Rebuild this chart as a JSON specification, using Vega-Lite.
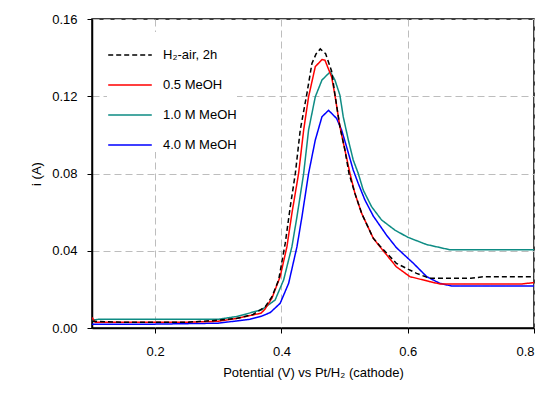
{
  "$schema": "https://vega.github.io/schema/vega-lite/v6.json",
  "width": 442,
  "height": 309,
  "autosize": {"type": "none"},
  "padding": {"left": 92, "top": 19, "right": 16, "bottom": 68},
  "background": "white",
  "config": {
    "view": {"stroke": "#000000", "strokeWidth": 1.5},
    "font": "Liberation Sans",
    "axis": {
      "labelFont": "Liberation Sans",
      "titleFont": "Liberation Sans",
      "labelFontSize": 13,
      "titleFontSize": 13,
      "titleFontWeight": "normal",
      "labelColor": "#000000",
      "titleColor": "#000000",
      "domainColor": "#000000",
      "domainWidth": 1.5,
      "tickColor": "#000000",
      "tickSize": 5,
      "gridColor": "#bdbdbd",
      "gridDash": [7, 4],
      "gridWidth": 1
    }
  },
  "data": {
    "values": [
      {"s": "1.0 M MeOH", "x": 0.100, "y": 0.0040},
      {"s": "1.0 M MeOH", "x": 0.110, "y": 0.0045},
      {"s": "1.0 M MeOH", "x": 0.300, "y": 0.0045},
      {"s": "1.0 M MeOH", "x": 0.330, "y": 0.0060},
      {"s": "1.0 M MeOH", "x": 0.3691, "y": 0.0095},
      {"s": "1.0 M MeOH", "x": 0.390, "y": 0.0145},
      {"s": "1.0 M MeOH", "x": 0.4035, "y": 0.0249},
      {"s": "1.0 M MeOH", "x": 0.4166, "y": 0.0421},
      {"s": "1.0 M MeOH", "x": 0.4246, "y": 0.0576},
      {"s": "1.0 M MeOH", "x": 0.4352, "y": 0.0800},
      {"s": "1.0 M MeOH", "x": 0.443, "y": 0.1025},
      {"s": "1.0 M MeOH", "x": 0.4536, "y": 0.1197},
      {"s": "1.0 M MeOH", "x": 0.4642, "y": 0.1284},
      {"s": "1.0 M MeOH", "x": 0.4774, "y": 0.1327},
      {"s": "1.0 M MeOH", "x": 0.4847, "y": 0.1284},
      {"s": "1.0 M MeOH", "x": 0.4926, "y": 0.1206},
      {"s": "1.0 M MeOH", "x": 0.4979, "y": 0.1094},
      {"s": "1.0 M MeOH", "x": 0.506, "y": 0.0973},
      {"s": "1.0 M MeOH", "x": 0.5137, "y": 0.0870},
      {"s": "1.0 M MeOH", "x": 0.5216, "y": 0.0801},
      {"s": "1.0 M MeOH", "x": 0.5296, "y": 0.0714},
      {"s": "1.0 M MeOH", "x": 0.5428, "y": 0.0628},
      {"s": "1.0 M MeOH", "x": 0.5587, "y": 0.0559},
      {"s": "1.0 M MeOH", "x": 0.5797, "y": 0.0507},
      {"s": "1.0 M MeOH", "x": 0.600, "y": 0.0470},
      {"s": "1.0 M MeOH", "x": 0.630, "y": 0.0432},
      {"s": "1.0 M MeOH", "x": 0.667, "y": 0.0405},
      {"s": "1.0 M MeOH", "x": 0.800, "y": 0.0405},

      {"s": "4.0 M MeOH", "x": 0.100, "y": 0.0020},
      {"s": "4.0 M MeOH", "x": 0.200, "y": 0.0020},
      {"s": "4.0 M MeOH", "x": 0.300, "y": 0.0025},
      {"s": "4.0 M MeOH", "x": 0.350, "y": 0.0045},
      {"s": "4.0 M MeOH", "x": 0.369, "y": 0.0062},
      {"s": "4.0 M MeOH", "x": 0.3823, "y": 0.0080},
      {"s": "4.0 M MeOH", "x": 0.398, "y": 0.0128},
      {"s": "4.0 M MeOH", "x": 0.4114, "y": 0.0231},
      {"s": "4.0 M MeOH", "x": 0.4246, "y": 0.0421},
      {"s": "4.0 M MeOH", "x": 0.4325, "y": 0.0576},
      {"s": "4.0 M MeOH", "x": 0.443, "y": 0.0800},
      {"s": "4.0 M MeOH", "x": 0.4536, "y": 0.0973},
      {"s": "4.0 M MeOH", "x": 0.4642, "y": 0.1094},
      {"s": "4.0 M MeOH", "x": 0.4747, "y": 0.1127},
      {"s": "4.0 M MeOH", "x": 0.4874, "y": 0.1085},
      {"s": "4.0 M MeOH", "x": 0.4953, "y": 0.1025},
      {"s": "4.0 M MeOH", "x": 0.5032, "y": 0.0938},
      {"s": "4.0 M MeOH", "x": 0.5137, "y": 0.0818},
      {"s": "4.0 M MeOH", "x": 0.5216, "y": 0.0749},
      {"s": "4.0 M MeOH", "x": 0.5322, "y": 0.0663},
      {"s": "4.0 M MeOH", "x": 0.5454, "y": 0.0580},
      {"s": "4.0 M MeOH", "x": 0.5666, "y": 0.0480},
      {"s": "4.0 M MeOH", "x": 0.5824, "y": 0.0415},
      {"s": "4.0 M MeOH", "x": 0.609, "y": 0.0335},
      {"s": "4.0 M MeOH", "x": 0.630, "y": 0.0266},
      {"s": "4.0 M MeOH", "x": 0.651, "y": 0.0231},
      {"s": "4.0 M MeOH", "x": 0.670, "y": 0.0217},
      {"s": "4.0 M MeOH", "x": 0.800, "y": 0.0217},

      {"s": "0.5 MeOH", "x": 0.100, "y": 0.0055},
      {"s": "0.5 MeOH", "x": 0.105, "y": 0.0030},
      {"s": "0.5 MeOH", "x": 0.250, "y": 0.0030},
      {"s": "0.5 MeOH", "x": 0.300, "y": 0.0035},
      {"s": "0.5 MeOH", "x": 0.330, "y": 0.0050},
      {"s": "0.5 MeOH", "x": 0.368, "y": 0.0077},
      {"s": "0.5 MeOH", "x": 0.3744, "y": 0.0100},
      {"s": "0.5 MeOH", "x": 0.385, "y": 0.0155},
      {"s": "0.5 MeOH", "x": 0.398, "y": 0.0266},
      {"s": "0.5 MeOH", "x": 0.4087, "y": 0.0421},
      {"s": "0.5 MeOH", "x": 0.4166, "y": 0.0594},
      {"s": "0.5 MeOH", "x": 0.4272, "y": 0.0800},
      {"s": "0.5 MeOH", "x": 0.4352, "y": 0.1025},
      {"s": "0.5 MeOH", "x": 0.443, "y": 0.1197},
      {"s": "0.5 MeOH", "x": 0.4536, "y": 0.1353},
      {"s": "0.5 MeOH", "x": 0.4642, "y": 0.1390},
      {"s": "0.5 MeOH", "x": 0.4689, "y": 0.1387},
      {"s": "0.5 MeOH", "x": 0.4795, "y": 0.1300},
      {"s": "0.5 MeOH", "x": 0.4847, "y": 0.1206},
      {"s": "0.5 MeOH", "x": 0.4926, "y": 0.1042},
      {"s": "0.5 MeOH", "x": 0.5006, "y": 0.0921},
      {"s": "0.5 MeOH", "x": 0.5085, "y": 0.0801},
      {"s": "0.5 MeOH", "x": 0.5164, "y": 0.0697},
      {"s": "0.5 MeOH", "x": 0.527, "y": 0.0594},
      {"s": "0.5 MeOH", "x": 0.5454, "y": 0.0465},
      {"s": "0.5 MeOH", "x": 0.556, "y": 0.0421},
      {"s": "0.5 MeOH", "x": 0.582, "y": 0.0317},
      {"s": "0.5 MeOH", "x": 0.6035, "y": 0.0266},
      {"s": "0.5 MeOH", "x": 0.635, "y": 0.0240},
      {"s": "0.5 MeOH", "x": 0.651, "y": 0.0228},
      {"s": "0.5 MeOH", "x": 0.780, "y": 0.0228},
      {"s": "0.5 MeOH", "x": 0.800, "y": 0.0235},

      {"s": "H₂-air, 2h", "x": 0.100, "y": 0.0035},
      {"s": "H₂-air, 2h", "x": 0.150, "y": 0.0030},
      {"s": "H₂-air, 2h", "x": 0.250, "y": 0.0030},
      {"s": "H₂-air, 2h", "x": 0.300, "y": 0.0040},
      {"s": "H₂-air, 2h", "x": 0.330, "y": 0.0050},
      {"s": "H₂-air, 2h", "x": 0.355, "y": 0.0070},
      {"s": "H₂-air, 2h", "x": 0.3744, "y": 0.0110},
      {"s": "H₂-air, 2h", "x": 0.385, "y": 0.0162},
      {"s": "H₂-air, 2h", "x": 0.3956, "y": 0.0249},
      {"s": "H₂-air, 2h", "x": 0.406, "y": 0.0438},
      {"s": "H₂-air, 2h", "x": 0.414, "y": 0.0628},
      {"s": "H₂-air, 2h", "x": 0.422, "y": 0.0800},
      {"s": "H₂-air, 2h", "x": 0.4298, "y": 0.1025},
      {"s": "H₂-air, 2h", "x": 0.4404, "y": 0.1215},
      {"s": "H₂-air, 2h", "x": 0.4483, "y": 0.1370},
      {"s": "H₂-air, 2h", "x": 0.455, "y": 0.1420},
      {"s": "H₂-air, 2h", "x": 0.4615, "y": 0.1445},
      {"s": "H₂-air, 2h", "x": 0.470, "y": 0.1420},
      {"s": "H₂-air, 2h", "x": 0.4795, "y": 0.1330},
      {"s": "H₂-air, 2h", "x": 0.4847, "y": 0.1210},
      {"s": "H₂-air, 2h", "x": 0.4926, "y": 0.1042},
      {"s": "H₂-air, 2h", "x": 0.5006, "y": 0.0921},
      {"s": "H₂-air, 2h", "x": 0.507, "y": 0.0800},
      {"s": "H₂-air, 2h", "x": 0.5164, "y": 0.0697},
      {"s": "H₂-air, 2h", "x": 0.527, "y": 0.0594},
      {"s": "H₂-air, 2h", "x": 0.5454, "y": 0.0465},
      {"s": "H₂-air, 2h", "x": 0.556, "y": 0.0425},
      {"s": "H₂-air, 2h", "x": 0.582, "y": 0.0335},
      {"s": "H₂-air, 2h", "x": 0.593, "y": 0.0317},
      {"s": "H₂-air, 2h", "x": 0.614, "y": 0.0283},
      {"s": "H₂-air, 2h", "x": 0.635, "y": 0.0257},
      {"s": "H₂-air, 2h", "x": 0.700, "y": 0.0257},
      {"s": "H₂-air, 2h", "x": 0.720, "y": 0.0266},
      {"s": "H₂-air, 2h", "x": 0.800, "y": 0.0266}
    ]
  },
  "mark": {"type": "line", "strokeWidth": 1.5, "clip": true},
  "encoding": {
    "x": {
      "field": "x",
      "type": "quantitative",
      "scale": {"domain": [0.1, 0.8], "nice": false, "zero": false},
      "axis": {
        "title": "Potential (V) vs Pt/H₂ (cathode)",
        "values": [0.2, 0.4, 0.6, 0.8],
        "format": ".1f",
        "labelPadding": 12,
        "titlePadding": 8,
        "grid": true
      }
    },
    "y": {
      "field": "y",
      "type": "quantitative",
      "scale": {"domain": [0, 0.16], "nice": false},
      "axis": {
        "title": "i (A)",
        "values": [0, 0.04, 0.08, 0.12, 0.16],
        "format": ".2f",
        "labelPadding": 10,
        "titlePadding": 8,
        "grid": true
      }
    },
    "color": {
      "field": "s",
      "type": "nominal",
      "scale": {
        "domain": ["H₂-air, 2h", "0.5 MeOH", "1.0 M MeOH", "4.0 M MeOH"],
        "range": ["#000000", "#ff0000", "#0e8c84", "#0000ff"]
      },
      "legend": {
        "title": null,
        "orient": "none",
        "legendX": 15,
        "legendY": 13,
        "symbolType": "stroke",
        "symbolSize": 1900,
        "symbolStrokeWidth": 1.5,
        "labelFont": "Liberation Sans",
        "labelFontSize": 13,
        "labelColor": "#000000",
        "labelOffset": 10,
        "rowPadding": 0,
        "fillColor": "white"
      }
    },
    "strokeDash": {
      "field": "s",
      "type": "nominal",
      "scale": {
        "domain": ["H₂-air, 2h", "0.5 MeOH", "1.0 M MeOH", "4.0 M MeOH"],
        "range": [[5, 3], [1, 0], [1, 0], [1, 0]]
      },
      "legend": null
    }
  }
}
